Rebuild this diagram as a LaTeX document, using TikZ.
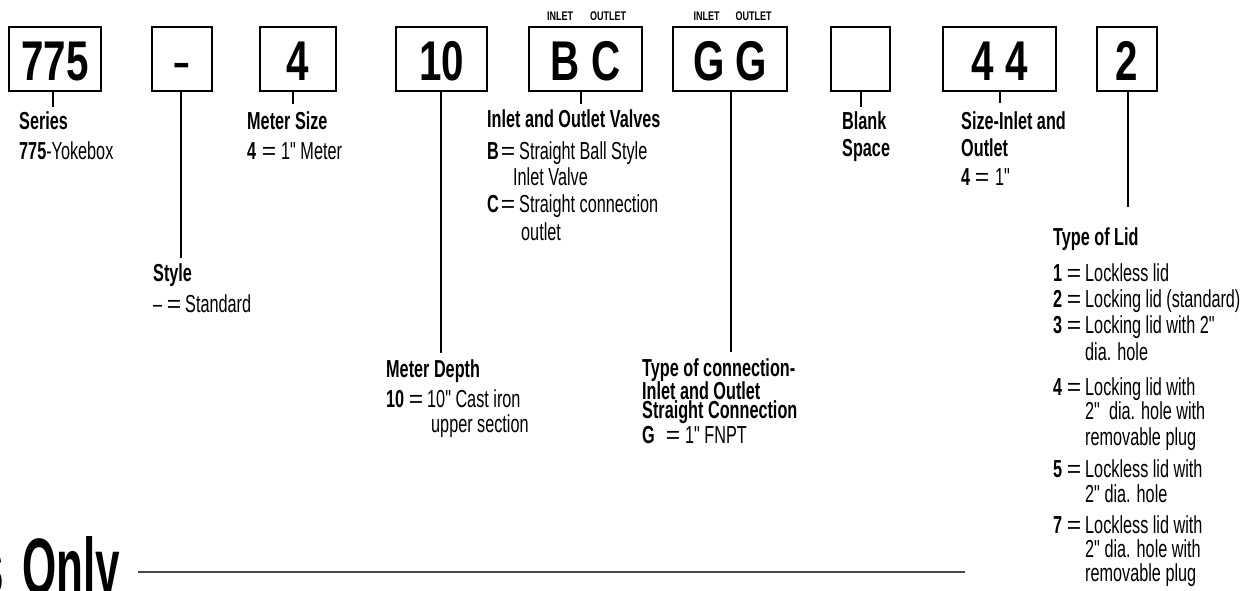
\documentclass[tikz,border=0pt]{standalone}
\usepackage{fontspec}
\setmainfont{Liberation Sans}[FakeStretch=0.66, Ligatures=TeXOff]
\newfontfamily\boxfont{Liberation Sans}[FakeStretch=0.72]
\newfontfamily\smallcapsfont{Liberation Sans}[FakeStretch=0.72]
\newfontfamily\onlyfont{Liberation Sans}[FakeStretch=0.55]
\newfontfamily\eqfont{Liberation Sans}
\newcommand\eqs{{\eqfont =}}
% key = value with aligned continuation
\newcommand\kv[4]{\makebox[#2][l]{\textbf{#1}\hfill\eqs\hspace{#3}}#4}
\begin{document}
\begin{tikzpicture}[x=1pt,y=-1pt,
  lbl/.style={anchor=base west, inner sep=0pt, font=\fontsize{24.6}{30}\selectfont},
  hd/.style={anchor=base west, inner sep=0pt, font=\fontsize{24.6}{30}\selectfont\bfseries},
  codebox/.style={draw, line width=2pt, minimum height=64pt, inner sep=0pt,
     text height=44pt, text depth=0pt, font=\boxfont\bfseries\fontsize{56}{56}\selectfont},
  tag/.style={anchor=base, inner sep=0pt, font=\smallcapsfont\bfseries\fontsize{12.5}{12.5}\selectfont},
  stem/.style={line width=1.2pt},
  rule/.style={line width=2pt, draw=black!72}]
\useasboundingbox (0,0) rectangle (1260,591);

% code boxes
\node[codebox, minimum width=92pt]  (b775)   at (55,59)    {775};
\node[codebox, minimum width=60pt]  (bdash)  at (182,59)   {\eqfont\mdseries -};
\node[codebox, minimum width=76pt]  (b4)     at (298,59)   {4};
\node[codebox, minimum width=91pt]  (b10)    at (441.5,59) {10};
\node[codebox, minimum width=113pt] (bBC)    at (585.5,59) {B C};
\node[codebox, minimum width=114pt] (bGG)    at (730,59)   {G G};
\node[codebox, minimum width=59pt]  (bblank) at (860.5,59) {};
\node[codebox, minimum width=113pt] (b44)    at (999.5,59) {4 4};
\node[codebox, minimum width=60pt]  (b2)     at (1127,59)  {2};

% inlet / outlet tags
\node[tag] (tBCi) at (560,21)   {INLET};
\node[tag] (tBCo) at (608,21)   {OUTLET};
\node[tag] (tGGi) at (706.5,21) {INLET};
\node[tag] (tGGo) at (753.5,21) {OUTLET};

% stem ends
\coordinate (e775)   at (53,107);
\coordinate (edash)  at (181,258);
\coordinate (e4)     at (293,104);
\coordinate (e10)    at (441,353);
\coordinate (eBC)    at (581,104);
\coordinate (eGG)    at (731,352);
\coordinate (eblank) at (861,107);
\coordinate (e44)    at (1000,103);
\coordinate (e2)     at (1128,207);
\draw[stem] (b775.south -| e775) -- (e775);
\draw[stem] (bdash.south -| edash) -- (edash);
\draw[stem] (b4.south -| e4) -- (e4);
\draw[stem] (b10.south -| e10) -- (e10);
\draw[stem] (bBC.south -| eBC) -- (eBC);
\draw[stem] (bGG.south -| eGG) -- (eGG);
\draw[stem] (bblank.south -| eblank) -- (eblank);
\draw[stem] (b44.south -| e44) -- (e44);
\draw[stem] (b2.south -| e2) -- (e2);

% Series
\node[hd]  (series)  at (19,129) {Series};
\node[lbl] (seriesv) at (19,159) {\textbf{775}-Yokebox};
% Meter size
\node[hd]  (msize)  at (247,129) {Meter Size};
\node[lbl] (msizev) at (247,159) {\kv{4}{34pt}{5pt}{1" Meter}};
% Style
\node[hd]  (style)  at (153,281) {Style};
\node[lbl] (stylev) at (153,312) {\makebox[32pt][l]{–\hfill\eqs\hspace{4pt}}Standard};
% Valves
\node[hd]  (valves) at (487,128) {Inlet and Outlet Valves};
\node[lbl] (valB)   at (487,159) {\kv{B}{32pt}{4pt}{Straight Ball Style}};
\node[lbl] (valB2)  at (513,185) {Inlet Valve};
\node[lbl] (valC)   at (487,212) {\kv{C}{32pt}{4pt}{Straight connection}};
\node[lbl] (valC2)  at (521,240) {outlet};
% Meter depth
\node[hd]  (depth)  at (386,377) {Meter Depth};
\node[lbl] (depthv) at (386,407) {\kv{10}{41pt}{4pt}{10" Cast iron}};
\node[lbl] (depth2) at (431,432) {upper section};
% Type of connection
\node[hd]  (conn)   at (642,376) {Type of connection-};
\node[hd]  (conn2)  at (642,399) {Inlet and Outlet};
\node[hd]  (conn3)  at (642,418) {Straight Connection};
\node[lbl] (connv)  at (642,443) {\kv{G}{43pt}{5pt}{1" FNPT}};
% Blank
\node[hd] (blank)  at (842,129) {Blank};
\node[hd] (blank2) at (842,157) {Space};
% Size inlet and outlet
\node[hd]  (sizeio)  at (961,129) {Size-Inlet and};
\node[hd]  (sizeio2) at (961,156) {Outlet};
\node[lbl] (sizeiov) at (961,185) {\kv{4}{34pt}{6pt}{1"}};
% Type of lid
\node[hd]  (lid)   at (1053,245) {Type of Lid};
\node[lbl] (lid1)  at (1053,281) {\kv{1}{32pt}{4pt}{Lockless lid}};
\node[lbl] (lid2)  at (1053,307) {\kv{2}{32pt}{4pt}{Locking lid (standard)}};
\node[lbl] (lid3)  at (1053,333) {\kv{3}{32pt}{4pt}{Locking lid with 2"}};
\node[lbl] (lid3b) at (1085,360) {dia. hole};
\node[lbl] (lid4)  at (1053,395) {\kv{4}{32pt}{4pt}{Locking lid with}};
\node[lbl] (lid4b) at (1085,419) {2"\ \ dia. hole with};
\node[lbl] (lid4c) at (1085,445) {removable plug};
\node[lbl] (lid5)  at (1053,477) {\kv{5}{32pt}{4pt}{Lockless lid with}};
\node[lbl] (lid5b) at (1085,502) {2" dia. hole};
\node[lbl] (lid7)  at (1053,533) {\kv{7}{32pt}{4pt}{Lockless lid with}};
\node[lbl] (lid7b) at (1085,557) {2" dia. hole with};
\node[lbl] (lid7c) at (1085,581) {removable plug};

% bottom heading fragment and rule
\node[anchor=base east, inner sep=0pt, font=\fontsize{80}{80}\selectfont\onlyfont\bfseries] (frag) at (4,594) {s};
\node[anchor=base west, inner sep=0pt, font=\fontsize{80}{80}\selectfont\onlyfont\bfseries] (only) at (22,594) {Only};
\coordinate (rl) at (138,572);
\coordinate (rr) at (965,572);
\draw[rule] (rl) -- (rr);
\end{tikzpicture}
\end{document}
